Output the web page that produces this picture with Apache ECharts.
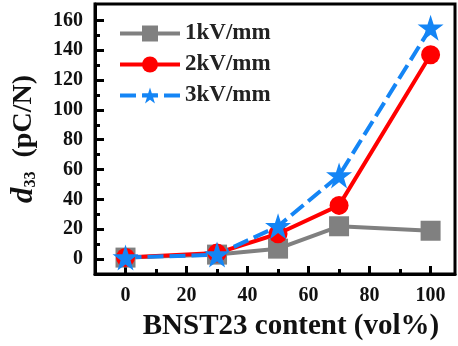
<!DOCTYPE html>
<html>
<head>
<meta charset="utf-8">
<script src="https://cdn.jsdelivr.net/npm/echarts@6/dist/echarts.min.js"></script>
<style>
  html, body { margin: 0; padding: 0; background: #fff; }
  #graph { width: 458px; height: 346px; }
</style>
</head>
<body>
<div id="graph"></div>
<script>
	var content = [0, 30, 50, 70, 100];
	var kv1 = [1, 3, 7, 22, 19];
	var kv2 = [1, 4, 17, 36, 137];
	var kv3 = [1, 3, 22, 56, 155];
	var names = ['1kV/mm', '2kV/mm', '3kV/mm'];
	var xTicks = [0, 20, 40, 60, 80, 100];
	var xMinor = [10, 30, 50, 70, 90];
	var yTicks = [0, 20, 40, 60, 80, 100, 120, 140, 160];
	var yMinor = [10, 30, 50, 70, 90, 110, 130, 150];

	function pairs(ys) {
		return content.map(function (x, i) { return [x, ys[i]]; });
	}

	var font = 'Liberation Serif';
	var myChart = echarts.init(document.getElementById('graph'));

	var option = {
		animation: false,
		grid: {
			left: 95, right: 3, top: 4, bottom: 72,
			show: true, borderColor: '#000', borderWidth: 3
		},
		legend: {
			left: 113, top: 17,
			orient: 'vertical',
			itemWidth: 60, itemHeight: 20, itemGap: 8,
			data: names,
			lineStyle: { width: 4 },
			textStyle: { fontFamily: font, fontWeight: 'bold', fontSize: 23, color: '#222' }
		},
		xAxis: [{
			type: 'value', min: -10, max: 108,
			name: 'BNST23 content (vol%)',
			nameLocation: 'middle', nameGap: 38,
			nameTextStyle: { fontFamily: font, fontWeight: 'bold', fontSize: 29, color: '#111', padding: [0, 0, 0, 32] },
			axisLine: { onZero: false, lineStyle: { color: '#000', width: 3 } },
			axisTick: { inside: true, length: 8, lineStyle: { color: '#000', width: 3 }, customValues: xTicks },
			axisLabel: { customValues: xTicks, margin: 12, fontFamily: font, fontWeight: 'bold', fontSize: 20, color: '#111' },
			splitLine: { show: false }
		}, {
			type: 'value', min: -10, max: 108, position: 'bottom',
			axisLine: { show: false, onZero: false },
			axisTick: { inside: true, length: 5, lineStyle: { color: '#000', width: 3 }, customValues: xMinor },
			axisLabel: { show: false },
			splitLine: { show: false }
		}],
		yAxis: [{
			type: 'value', min: -10, max: 171,
			name: '{i|d}{s|33}  (pC/N)',
			nameLocation: 'middle', nameGap: 56, nameRotate: 90,
			nameTextStyle: {
				fontFamily: font, fontWeight: 'bold', fontSize: 28, color: '#111',
				rich: {
					i: { fontFamily: font, fontWeight: 'bold', fontStyle: 'italic', fontSize: 31, color: '#111' },
					s: { fontFamily: font, fontWeight: 'bold', fontSize: 16, color: '#111', verticalAlign: 'bottom', padding: [14, 0, 0, 0] }
				}
			},
			axisLine: { onZero: false, lineStyle: { color: '#000', width: 3 } },
			axisTick: { inside: true, length: 9, lineStyle: { color: '#000', width: 3 }, customValues: yTicks },
			axisLabel: { customValues: yTicks, margin: 12, fontFamily: font, fontWeight: 'bold', fontSize: 20, color: '#111' },
			splitLine: { show: false }
		}, {
			type: 'value', min: -10, max: 171, position: 'left',
			axisLine: { show: false, onZero: false },
			axisTick: { inside: true, length: 5, lineStyle: { color: '#000', width: 3 }, customValues: yMinor },
			axisLabel: { show: false },
			splitLine: { show: false }
		}],
		series: [{
			name: names[0], type: 'line',
			data: pairs(kv1),
			symbol: 'rect', symbolSize: 20,
			itemStyle: { color: '#808080' },
			lineStyle: { color: '#808080', width: 4 }
		}, {
			name: names[1], type: 'line',
			data: pairs(kv2),
			symbol: 'circle', symbolSize: 19,
			itemStyle: { color: '#ff0000' },
			lineStyle: { color: '#ff0000', width: 4 }
		}, {
			name: names[2], type: 'line',
			data: pairs(kv3),
			symbol: 'path://M50,0 L61.8,35.4 L100,35.4 L69.1,57.3 L80.9,95.1 L50,72.4 L19.1,95.1 L30.9,57.3 L0,35.4 L38.2,35.4 Z',
			symbolSize: 26,
			itemStyle: { color: '#1485f5' },
			lineStyle: { color: '#1485f5', width: 4, type: [16, 6] }
		}]
	};
	myChart.setOption(option);
</script>
</body>
</html>
